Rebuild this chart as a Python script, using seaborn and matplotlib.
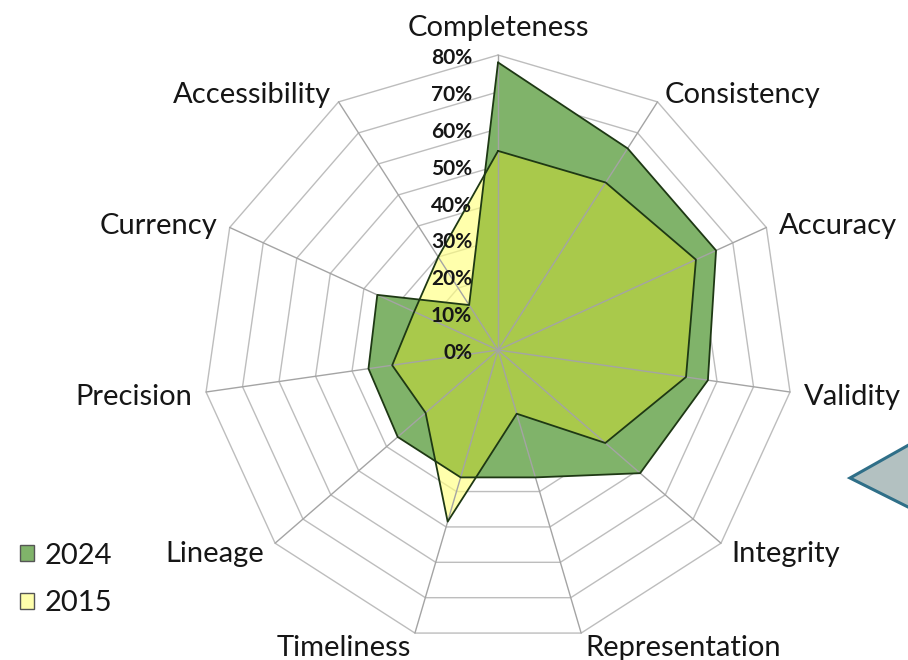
import numpy as np
import pandas as pd
import matplotlib
matplotlib.use("Agg")
import matplotlib.pyplot as plt
import seaborn as sns
from matplotlib.patches import Patch, Polygon
from matplotlib.transforms import offset_copy

# ---------------- data ----------------
categories = ["Completeness", "Consistency", "Accuracy", "Validity", "Integrity",
              "Representation", "Timeliness", "Lineage", "Precision", "Currency",
              "Accessibility"]
values_2024 = [78, 65, 65, 57.5, 51, 36, 36, 36, 35.5, 36, 14.5]
values_2015 = [54, 54, 59, 51.5, 38.5, 18, 48.5, 26, 29, 25, 30]
tick_values = [0, 10, 20, 30, 40, 50, 60, 70, 80]
tick_labels = ["0%", "10%", "20%", "30%", "40%", "50%", "60%", "70%", "80%"]
series_names = ["2024", "2015"]

# ---------------- style ----------------
sns.set_theme(style="white")
plt.rcParams["font.family"] = ["Lato", "DejaVu Sans"]

GREEN = "#80b36a"
LIME = "#a9c94b"
YELLOW = "#ffff80"
YELLOW_SOLID = "#ffffac"
EDGE = "#1e3814"
GRID = "#bdbdbd"
TEXT = "#161616"

fig = plt.figure(figsize=(9.08, 6.6), dpi=100)
ax = fig.add_axes([0.2236, 0.0227, 0.6498, 0.8939], projection="polar")
ax.set_theta_zero_location("N")
ax.set_theta_direction(-1)
ax.patch.set_alpha(0)

N = len(categories)
theta = np.arange(N) * 2 * np.pi / N
theta_c = np.append(theta, theta[0])
v24_c = np.append(values_2024, values_2024[0])
v15_c = np.append(values_2015, values_2015[0])

# rings
for lvl in tick_values[1:]:
    ax.plot(theta_c, [lvl] * (N + 1), color=GRID, lw=1.0, zorder=1, clip_on=False)

# fills
p24 = ax.fill(theta_c, v24_c, color=GREEN, lw=0, zorder=2)[0]
ax.fill(theta_c, v15_c, color=YELLOW, alpha=0.65, lw=0, zorder=3)
ov = ax.fill(theta_c, v15_c, color=LIME, lw=0, zorder=4)[0]
ov.set_clip_path(p24)

# spokes
for t in theta:
    ax.plot([t, t], [0, tick_values[-1]], color="#a4a4a4", lw=1.0, zorder=5, clip_on=False)

# outlines with seaborn
df = pd.DataFrame({
    "theta": np.concatenate([theta_c, theta_c]),
    "value": np.concatenate([v24_c, v15_c]),
    "year": [series_names[0]] * (N + 1) + [series_names[1]] * (N + 1),
})
sns.lineplot(data=df, x="theta", y="value", hue="year", units="year",
             palette={series_names[0]: EDGE, series_names[1]: EDGE},
             sort=False, estimator=None, legend=False, lw=1.3, ax=ax, zorder=6)

ax.set_xlabel("")
ax.set_ylabel("")
ax.set_ylim(0, tick_values[-1])
ax.grid(False)
ax.set_xticks([])
ax.set_yticks([])
ax.spines["polar"].set_visible(False)

# radial tick labels
tr = offset_copy(ax.transData, fig=fig, x=-26, y=-3, units="dots")
for lvl, lab in zip(tick_values, tick_labels):
    ax.text(0, lvl, lab, transform=tr, ha="right", va="center",
            fontsize=15, fontweight="bold", color=TEXT, zorder=7)

# category labels
for t, name in zip(theta, categories):
    s, c = np.sin(t), np.cos(t)
    if abs(s) < 0.05:
        ha, va, dx, dy = "center", "bottom", 0, 14
    else:
        ha = "left" if s > 0 else "right"
        va = "center"
        dx, dy = 14 * s, 12 * c - 3
    trc = offset_copy(ax.transData, fig=fig, x=dx, y=dy, units="dots")
    ax.text(t, tick_values[-1], name, transform=trc, ha=ha, va=va,
            fontsize=21, color=TEXT)

# legend
handles = [Patch(facecolor=GREEN, edgecolor="#555555", lw=1.0, label=series_names[0]),
           Patch(facecolor=YELLOW_SOLID, edgecolor="#555555", lw=1.0, label=series_names[1])]
fig.legend(handles=handles, loc="upper left", bbox_to_anchor=(0.022, 0.178),
           frameon=False, fontsize=21, handlelength=0.48, handleheight=0.48,
           handletextpad=0.36, labelspacing=0.75, borderpad=0, borderaxespad=0,
           labelcolor=TEXT)

# callout pointer at right edge
W, H = 908, 660
tri = Polygon([[850 / W, (H - 478) / H], [930 / W, (H - 433) / H], [930 / W, (H - 518) / H]],
              closed=True, transform=fig.transFigure, facecolor="#b3c1c1",
              edgecolor="#2f6f88", lw=2.2, zorder=10)
fig.patches.append(tri)

fig.savefig("out.png", dpi=100)
